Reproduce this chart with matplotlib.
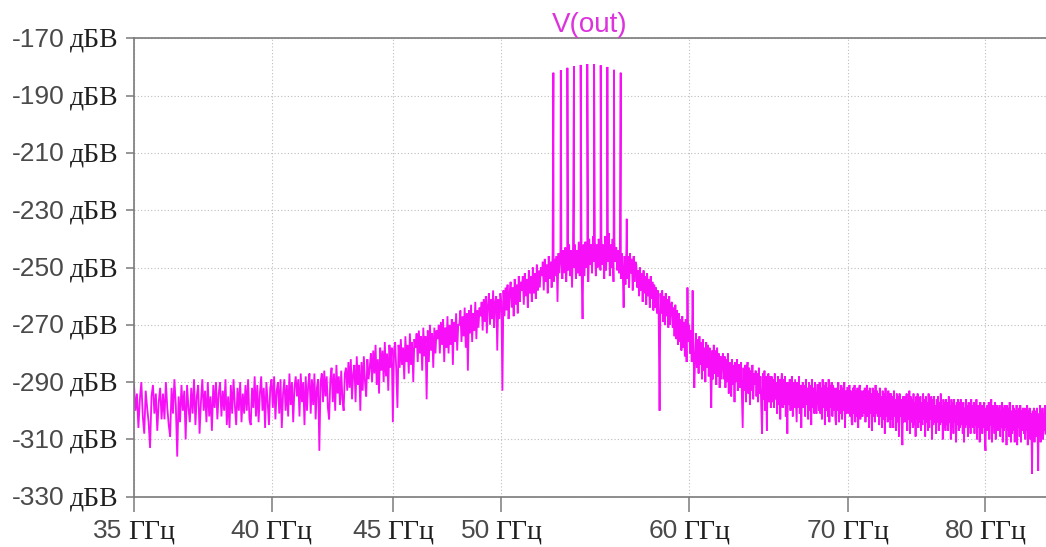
import numpy as np
import matplotlib
matplotlib.use("Agg")
import matplotlib.pyplot as plt
from matplotlib.ticker import NullFormatter, NullLocator
from matplotlib.offsetbox import TextArea, HPacker, AnnotationBbox

# Spectrum of V(out): FFT bins start at 35 GHz with a 0.05 GHz step (levels in dBV),
# one row per GHz
f_start_ghz = 35.0
f_step_ghz = 0.05
noise_db = [
    -291, -300, -294, -306, -296, -290, -302, -308, -293, -299, -304, -313, -295, -291, -301, -294, -307, -297, -292, -303,  # 35
    -294, -303, -290, -299, -305, -309, -292, -301, -289, -298, -316, -295, -304, -291, -300, -293, -310, -291, -299, -304,  # 36
    -292, -301, -289, -305, -295, -291, -308, -297, -289, -300, -293, -304, -290, -302, -295, -307, -291, -299, -290, -303,  # 37
    -294, -290, -302, -293, -300, -289, -305, -295, -306, -291, -301, -289, -298, -305, -292, -300, -290, -304, -294, -301,  # 38
    -291, -300, -289, -303, -305, -292, -299, -288, -302, -291, -304, -294, -288, -300, -292, -306, -290, -297, -305, -292,  # 39
    -289, -299, -288, -303, -293, -290, -301, -289, -306, -294, -289, -300, -291, -302, -287, -298, -290, -304, -292, -288,  # 40
    -295, -289, -302, -287, -297, -290, -305, -288, -300, -291, -287, -301, -289, -298, -287, -303, -292, -289, -314, -290,  # 41
    -287, -297, -286, -295, -288, -299, -303, -289, -285, -297, -287, -300, -284, -294, -288, -298, -286, -296, -300, -287,  # 42
    -285, -293, -283, -292, -282, -296, -287, -284, -297, -281, -291, -284, -300, -283, -293, -281, -290, -295, -282, -289,  # 43
    -285, -280, -290, -279, -287, -277, -291, -282, -294, -278, -286, -279, -290, -276, -288, -280, -293, -277, -285, -278,  # 44
    -304, -279, -276, -286, -299, -277, -285, -275, -284, -278, -289, -274, -283, -277, -287, -273, -284, -276, -290, -275,  # 45
    -278, -273, -283, -272, -280, -274, -286, -271, -281, -274, -296, -272, -283, -270, -279, -273, -285, -271, -280, -272,  # 46
    -275, -270, -280, -269, -277, -268, -283, -271, -278, -267, -280, -270, -277, -268, -284, -269, -276, -266, -279, -270,  # 47
    -270, -265, -276, -267, -274, -264, -278, -266, -286, -265, -273, -263, -276, -266, -272, -262, -275, -265, -271, -264,  # 48
    -267, -262, -272, -261, -269, -260, -273, -263, -259, -270, -261, -268, -258, -271, -262, -260, -279, -261, -268, -259,  # 49
    -262, -293, -258, -267, -257, -265, -256, -268, -259, -255, -264, -257, -267, -254, -263, -256, -266, -253, -262, -255,  # 50
    -258, -253, -263, -252, -260, -254, -264, -251, -259, -253, -262, -250, -259, -252, -261, -249, -258, -251, -257, -250,  # 51
    -253, -248, -258, -247, -255, -249, -259, -246, -254, -248, -257, -245, -255, -247, -253, -246, -262, -245, -252, -244,  # 52
    -247, -254, -244, -252, -243, -255, -245, -251, -242, -253, -244, -257, -243, -250, -242, -254, -244, -252, -241, -253,  # 53
    -244, -251, -268, -242, -253, -241, -250, -243, -255, -240, -249, -242, -252, -239, -248, -241, -253, -242, -250, -240,  # 54
    -243, -251, -240, -249, -242, -254, -239, -251, -241, -248, -238, -253, -242, -250, -240, -255, -241, -248, -243, -251,  # 55
    -244, -252, -243, -254, -245, -251, -264, -246, -256, -244, -254, -246, -257, -245, -252, -247, -258, -246, -255, -248,  # 56
    -249, -257, -251, -260, -250, -258, -252, -262, -251, -259, -253, -263, -252, -260, -254, -264, -253, -261, -255, -265,  # 57
    -256, -264, -257, -266, -258, -267, -300, -259, -266, -258, -269, -260, -270, -259, -267, -261, -271, -260, -270, -263,  # 58
    -262, -271, -264, -274, -263, -275, -265, -277, -266, -276, -268, -279, -267, -278, -269, -281, -268, -283, -257, -276,  # 59
    -270, -280, -272, -283, -258, -279, -292, -281, -273, -285, -275, -287, -274, -284, -276, -289, -275, -286, -278, -290,  # 60
    -276, -285, -277, -288, -278, -287, -299, -279, -289, -277, -287, -279, -291, -278, -288, -280, -292, -281, -289, -282,  # 61
    -280, -289, -281, -292, -282, -290, -280, -294, -283, -286, -295, -282, -291, -284, -297, -283, -290, -282, -293, -284,  # 62
    -284, -292, -283, -295, -306, -285, -293, -284, -297, -286, -283, -294, -285, -298, -286, -293, -284, -296, -287, -291,  # 63
    -286, -295, -287, -297, -285, -294, -288, -299, -308, -287, -296, -286, -300, -288, -307, -289, -287, -297, -288, -299,  # 64
    -288, -297, -289, -299, -287, -296, -290, -301, -288, -298, -289, -303, -290, -287, -299, -289, -298, -288, -302, -290,  # 65
    -308, -290, -298, -289, -300, -291, -288, -302, -290, -299, -289, -297, -304, -290, -299, -288, -301, -291, -306, -292,  # 66
    -290, -299, -291, -302, -289, -298, -292, -303, -290, -300, -291, -305, -289, -299, -292, -301, -290, -300, -301, -291,  # 67
    -291, -300, -290, -301, -292, -303, -289, -299, -291, -305, -290, -300, -292, -302, -289, -304, -291, -299, -290, -302,  # 68
    -291, -300, -292, -303, -305, -292, -300, -290, -304, -293, -301, -291, -303, -292, -300, -290, -306, -293, -301, -292,  # 69
    -292, -301, -291, -302, -293, -304, -305, -292, -301, -291, -304, -293, -302, -292, -306, -294, -291, -303, -293, -301,  # 70
    -302, -293, -301, -292, -304, -294, -291, -302, -293, -306, -292, -301, -294, -307, -292, -302, -293, -304, -291, -301,  # 71
    -293, -302, -294, -305, -292, -302, -295, -306, -293, -303, -294, -308, -292, -302, -295, -304, -293, -303, -294, -306,  # 72
    -294, -303, -295, -306, -293, -302, -296, -307, -294, -304, -295, -309, -294, -302, -296, -305, -312, -295, -304, -296,  # 73
    -295, -304, -294, -307, -296, -303, -293, -308, -295, -304, -296, -306, -294, -305, -297, -309, -295, -303, -294, -306,  # 74
    -296, -304, -295, -307, -297, -305, -294, -303, -296, -309, -295, -304, -297, -307, -294, -306, -296, -303, -295, -310,  # 75
    -296, -305, -295, -304, -298, -308, -296, -304, -295, -307, -297, -305, -294, -304, -298, -310, -296, -306, -297, -307,  # 76
    -296, -305, -297, -307, -295, -304, -298, -310, -296, -306, -297, -308, -296, -304, -298, -311, -297, -305, -296, -307,  # 77
    -297, -306, -296, -305, -298, -308, -297, -311, -299, -306, -296, -305, -298, -309, -297, -306, -299, -308, -296, -305,  # 78
    -298, -306, -297, -308, -299, -305, -296, -310, -298, -306, -299, -311, -297, -305, -298, -308, -299, -306, -297, -310,  # 79
    -314, -299, -307, -298, -306, -297, -310, -299, -305, -296, -311, -298, -306, -299, -308, -297, -310, -300, -298, -307,  # 80
    -299, -307, -298, -309, -300, -306, -297, -311, -299, -307, -298, -306, -300, -312, -298, -307, -299, -309, -297, -306,  # 81
    -311, -300, -308, -298, -307, -299, -311, -300, -307, -298, -312, -300, -306, -299, -309, -298, -311, -300, -307, -299,  # 82
    -300, -308, -299, -310, -301, -307, -298, -312, -300, -308, -299, -310, -301, -307, -322, -300, -309, -299, -311, -301,  # 83
    -300, -309, -299, -308, -321, -301, -307, -298, -311, -300, -308, -299, -310, -301, -307, -298, -308,                    # 84
]

# Comb lines of the output tone
comb_freq_ghz = [52.59, 52.97, 53.31, 53.65, 54.00, 54.35,
                 54.71, 55.06, 55.42, 55.78, 56.14, 56.47]
comb_level_db = [-182.0, -181.1, -180.3, -179.7, -179.3, -179.0,
                 -179.1, -179.4, -180.0, -181.0, -182.0, -233.0]

x_ticks_ghz = [35, 40, 45, 50, 60, 70, 80]
y_ticks_db = [-170, -190, -210, -230, -250, -270, -290, -310, -330]
x_unit = "ГГц"
y_unit = "дБВ"
trace_name = "V(out)"

# merge the noise floor and the comb lines into one trace
noise_freq = f_start_ghz + f_step_ghz * np.arange(len(noise_db))
freq = np.concatenate([noise_freq, np.asarray(comb_freq_ghz)])
level = np.concatenate([np.asarray(noise_db, float), np.asarray(comb_level_db)])
order = np.argsort(freq, kind="stable")
freq, level = freq[order], level[order]

W, H, DPI = 1046, 547, 100
fig = plt.figure(figsize=(W / DPI, H / DPI), dpi=DPI)
ax = fig.add_axes([134 / W, 1 - 496.7 / H, 1 - 134 / W, (496.7 - 38.3) / H])

trace_color = "#f70ff7"
ax.plot(freq, level, color=trace_color, lw=1.3, solid_joinstyle="miter")

ax.set_xscale("log")
ax.set_xlim(35, 84.84)
ax.set_ylim(-330, -170)
ax.set_xticks(x_ticks_ghz)
ax.set_yticks(y_ticks_db)
ax.xaxis.set_minor_locator(NullLocator())
ax.xaxis.set_major_formatter(NullFormatter())
ax.xaxis.set_minor_formatter(NullFormatter())
ax.yaxis.set_major_formatter(NullFormatter())

axis_gray = "#7a7a7a"
for side in ("left", "bottom", "top"):
    ax.spines[side].set_color(axis_gray)
    ax.spines[side].set_linewidth(1.2)
ax.spines["right"].set_visible(False)
ax.tick_params(axis="x", direction="out", length=10.8, width=1.1, color=axis_gray)
ax.tick_params(axis="y", direction="out", length=5.8, width=1.1, color=axis_gray)
ax.grid(True, which="major", linestyle=(0, (1, 2)), color="#bdbdbd", lw=0.8)
ax.set_axisbelow(True)

num_props = dict(family="Liberation Sans", size=19, color="#4a4a4a")
unit_props = dict(family="Liberation Serif", size=20, color="#1e1e1e")


def unit_label(num, unit):
    a = TextArea(num, textprops=num_props)
    b = TextArea(unit, textprops=unit_props)
    return HPacker(children=[a, b], align="baseline", pad=0, sep=4.0)


for f in x_ticks_ghz:
    ab = AnnotationBbox(unit_label(f"{f}", x_unit), (f, 0),
                        xycoords=ax.get_xaxis_transform(),
                        xybox=(0, -16.4), boxcoords="offset points",
                        box_alignment=(0.5, 1), frameon=False, pad=0,
                        annotation_clip=False)
    ax.add_artist(ab)

for v in y_ticks_db:
    ab = AnnotationBbox(unit_label(f"{v}", y_unit), (0, v),
                        xycoords=ax.get_yaxis_transform(),
                        xybox=(-10.8, -1.5), boxcoords="offset points",
                        box_alignment=(1, 0.5), frameon=False, pad=0,
                        annotation_clip=False)
    ax.add_artist(ab)

ax.set_title(trace_name, color="#dd33dd", fontsize=20,
             family="Liberation Sans", pad=4.7)

fig.savefig("out.png", dpi=DPI)
